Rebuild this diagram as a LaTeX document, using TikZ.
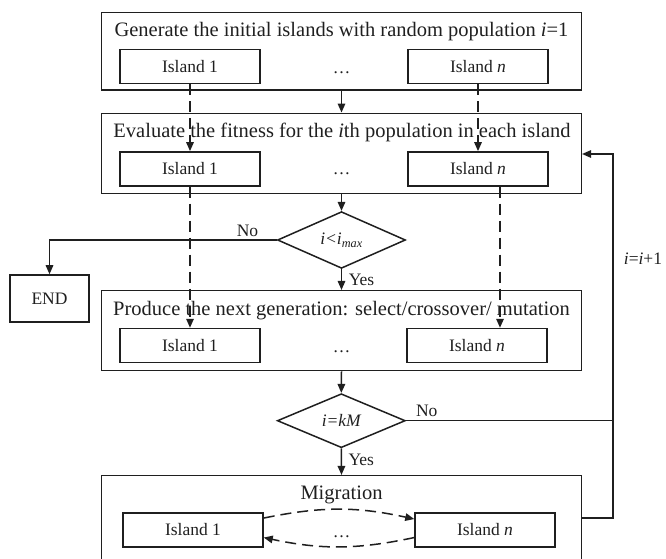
\documentclass[tikz,border=0pt]{standalone}
\usepackage{fontspec}
\setmainfont{Liberation Serif}
\usetikzlibrary{arrows.meta,shapes.geometric}

\begin{document}
\begin{tikzpicture}[x=1bp,y=-1bp,
  ink/.style={draw=black!88, line width=1.5bp},
  bigbox/.style={ink, rectangle, inner sep=0pt, minimum width=479.6bp},
  islandbox/.style={ink, rectangle, inner sep=0pt, minimum width=140bp, minimum height=34bp,
    font=\fontsize{17.5bp}{20bp}\selectfont, text=black!88},
  titletext/.style={anchor=base, inner sep=0pt, font=\fontsize{20.5bp}{24bp}\selectfont, text=black!88},
  smalltext/.style={anchor=base, inner sep=0pt, font=\fontsize{17.5bp}{20bp}\selectfont, text=black!88},
  decision/.style={ink, diamond, inner sep=0pt, minimum width=128bp, minimum height=54bp,
    font=\fontsize{17.5bp}{20bp}\selectfont\itshape, text=black!88},
  arr/.style={ink, -{Triangle[length=9bp,width=7.5bp]}},
  darr/.style={arr, dash pattern=on 11bp off 6bp}]

\useasboundingbox (0,0) rectangle (666,559);
\clip (0,0) rectangle (666,559);

% stage frames
\node[bigbox, minimum height=77.3bp] (big1) at (341.5,51.35) {};
\node[bigbox, minimum height=80bp]   (big2) at (341.5,153.3) {};
\node[bigbox, minimum height=80bp]   (big3) at (341.5,330.7) {};
\node[bigbox, minimum height=100bp]  (big4) at (341.5,525.7) {};

% stage titles
\node[titletext] (t1) at (341.5,36.7) {Generate the initial islands with random population \textit{i}=1};
\node[titletext] (t2) at (342,137.7) {Evaluate the fitness for the \textit{i}th population in each island};
\node[titletext] (t3) at (341.5,315) {Produce the next generation: select/crossover/ mutation};
\node[titletext] (t4) at (341.5,499) {Migration};

% islands
\node[islandbox] (i11) at (190,66.7) {Island 1};
\node[islandbox] (i1n) at (478,66.7) {Island \textit{n}};
\node[islandbox] (i21) at (190,168.9) {Island 1};
\node[islandbox] (i2n) at (478,168.9) {Island \textit{n}};
\node[islandbox] (i31) at (190,345.5) {Island 1};
\node[islandbox] (i3n) at (477,345.5) {Island \textit{n}};
\node[islandbox] (i41) at (193,529.8) {Island 1};
\node[islandbox] (i4n) at (485,529.8) {Island \textit{n}};

\node[smalltext] (dots1) at (341.5,73.5) {…};
\node[smalltext] (dots2) at (341.5,175) {…};
\node[smalltext] (dots3) at (341.5,352.3) {…};
\node[smalltext] (dots4) at (341.5,537.3) {…};

% decisions and end
\node[decision] (d1) at (341.5,240) {i<i\textsubscript{max}};
\node[decision] (d2) at (341.3,420.7) {i=kM};
\node[ink, rectangle, minimum width=79bp, minimum height=47bp, inner sep=0pt,
  font=\fontsize{17.5bp}{20bp}\selectfont, text=black!88] (endbox) at (49.5,298.5) {END};

% branch labels
\node[smalltext] (no1)  at (247.5,236.5) {No};
\node[smalltext] (no2)  at (426.7,416) {No};
\node[smalltext] (yes1) at (361.5,285) {Yes};
\node[smalltext] (yes2) at (361.3,465.7) {Yes};
\node[smalltext] (inc)  at (643,265) {\textit{i}=\textit{i}+1};

% helper points
\coordinate (dn) at (500,0);
\coordinate (fbl) at (613,518);
\coordinate (fbu) at (613,154);

% main flow
\draw[arr] (big1.south) -- (big2.north);
\draw[arr] (big2.south) -- (d1.north);
\draw[arr] (d1.west) -| (endbox.north);
\draw[arr] (d1.south) -- (big3.north);
\draw[arr] (big3.south) -- (d2.north);
\draw[arr] (d2.south) -- (big4.north);
\draw[ink] (d2.east) -- (d2.east -| fbl);
\draw[arr] (big4.east |- fbl) -- (fbl) -- (fbu) -- (big2.east |- fbu);

% per-island flow
\draw[darr] (i11.south) -- (i21.north);
\draw[darr] (i1n.south) -- (i2n.north);
\draw[darr] (i21.south) -- (i31.north);
\draw[darr] (i2n.south -| dn) -- (i3n.north -| dn);

% migration exchange
\draw[darr] ([yshift=-6bp]i41.north east) to[bend left=12] ([yshift=-7bp]i4n.north west);
\draw[darr] ([yshift=10bp]i4n.south west) to[bend left=12] ([yshift=10bp]i41.south east);
\end{tikzpicture}
\end{document}
